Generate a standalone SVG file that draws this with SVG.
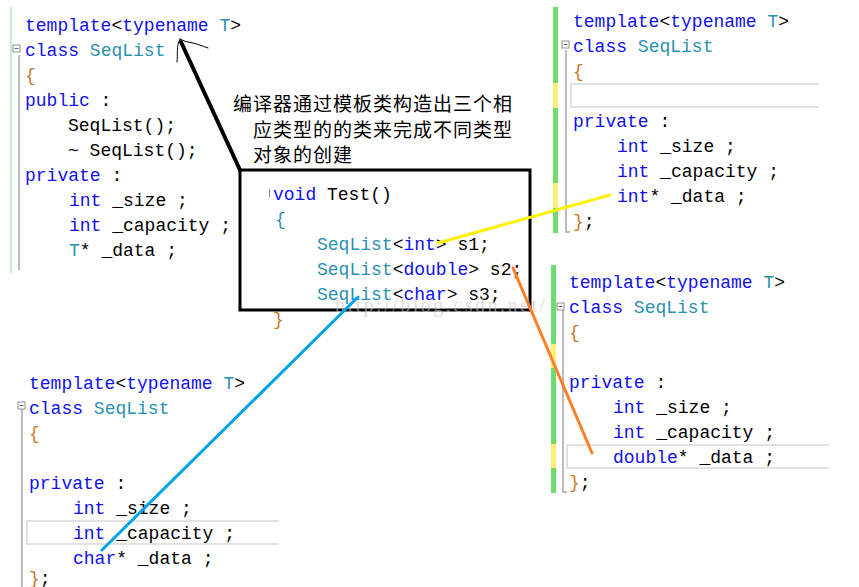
<svg xmlns="http://www.w3.org/2000/svg" width="859" height="587" viewBox="0 0 859 587">
<style>
.code{font-family:"Liberation Mono","DejaVu Sans Mono",monospace;font-size:18px;fill:#000}
.kw{fill:#1010f0}
.ty{fill:#2b91af}
.br{fill:#c8782a}
.gbar{fill:#70dc70}
.ybar{fill:#fff07a}
.gline{stroke:#a8a8a8;stroke-width:1.5;fill:none}
.hl{fill:none;stroke:#e2e2e2;stroke-width:2}
.fold{fill:#fff;stroke:#909090;stroke-width:1}
.note{font-family:"Noto Sans CJK SC","Noto Sans CJK JP",sans-serif;font-size:19px;fill:#000;letter-spacing:1px}
</style>
<rect width="859" height="587" fill="#fff"/>

<g id="class-template">
<line x1="11" y1="7" x2="11" y2="273" stroke="#b8e8b8" stroke-width="1.5"/>
<line class="gline" x1="19" y1="55" x2="19" y2="270"/>
<rect class="fold" x="13" y="45" width="7" height="7"/><line x1="14.5" y1="48.5" x2="18.5" y2="48.5" stroke="#707070"/>
<text class="code" x="25" y="31"><tspan class="kw">template</tspan>&lt;<tspan class="kw">typename</tspan> <tspan class="ty">T</tspan>&gt;</text>
<text class="code" x="25" y="56"><tspan class="kw">class</tspan> <tspan class="ty">SeqList</tspan></text>
<text class="code br" x="25" y="81">{</text>
<text class="code" x="25" y="106"><tspan class="kw">public</tspan> :</text>
<text class="code" x="68" y="131">SeqList();</text>
<text class="code" x="68" y="156">~ SeqList();</text>
<text class="code" x="25" y="181"><tspan class="kw">private</tspan> :</text>
<text class="code" x="69" y="206"><tspan class="kw">int</tspan> _size ;</text>
<text class="code" x="69" y="231"><tspan class="kw">int</tspan> _capacity ;</text>
<text class="code" x="69" y="256"><tspan class="ty">T</tspan>* _data ;</text>
</g>

<g id="class-int">
<rect class="gbar" x="553" y="7" width="5" height="226"/>
<rect class="ybar" x="553" y="83" width="5" height="25"/>
<rect class="ybar" x="553" y="183" width="5" height="25"/>
<polyline class="gline" points="566,50 566,232 570,232"/>
<rect class="fold" x="562" y="41" width="7" height="7"/><line x1="563.5" y1="44.5" x2="567.5" y2="44.5" stroke="#707070"/>
<polyline class="hl" points="819,84 571,84 571,107 819,107"/>
<text class="code" x="573" y="27"><tspan class="kw">template</tspan>&lt;<tspan class="kw">typename</tspan> <tspan class="ty">T</tspan>&gt;</text>
<text class="code" x="573" y="52"><tspan class="kw">class</tspan> <tspan class="ty">SeqList</tspan></text>
<text class="code br" x="573" y="77">{</text>
<text class="code" x="573" y="127"><tspan class="kw">private</tspan> :</text>
<text class="code" x="617" y="152"><tspan class="kw">int</tspan> _size ;</text>
<text class="code" x="617" y="177"><tspan class="kw">int</tspan> _capacity ;</text>
<text class="code" x="617" y="202"><tspan class="kw">int</tspan>* _data ;</text>
<text class="code" x="573" y="227"><tspan class="br">}</tspan>;</text>
</g>

<g id="class-double">
<rect class="gbar" x="551" y="265" width="5" height="228"/>
<rect class="ybar" x="551" y="344" width="5" height="24"/>
<rect class="ybar" x="551" y="444" width="5" height="24"/>
<polyline class="gline" points="563,310 563,492 567,492"/>
<rect class="fold" x="557" y="303" width="7" height="7"/><line x1="558.5" y1="306.5" x2="562.5" y2="306.5" stroke="#707070"/>
<polyline class="hl" points="829,445 567,445 567,468 829,468"/>
<text class="code" x="569" y="288"><tspan class="kw">template</tspan>&lt;<tspan class="kw">typename</tspan> <tspan class="ty">T</tspan>&gt;</text>
<text class="code" x="569" y="313"><tspan class="kw">class</tspan> <tspan class="ty">SeqList</tspan></text>
<text class="code br" x="569" y="338">{</text>
<text class="code" x="569" y="388"><tspan class="kw">private</tspan> :</text>
<text class="code" x="613" y="413"><tspan class="kw">int</tspan> _size ;</text>
<text class="code" x="613" y="438"><tspan class="kw">int</tspan> _capacity ;</text>
<text class="code" x="613" y="463"><tspan class="kw">double</tspan>* _data ;</text>
<text class="code" x="569" y="488"><tspan class="br">}</tspan>;</text>
</g>

<g id="class-char">
<line class="gline" x1="22" y1="405" x2="22" y2="587"/>
<rect class="fold" x="18" y="402" width="7" height="7"/><line x1="19.5" y1="405.5" x2="23.5" y2="405.5" stroke="#707070"/>
<polyline class="hl" points="279,521 27,521 27,544 279,544"/>
<text class="code" x="29" y="389"><tspan class="kw">template</tspan>&lt;<tspan class="kw">typename</tspan> <tspan class="ty">T</tspan>&gt;</text>
<text class="code" x="29" y="414"><tspan class="kw">class</tspan> <tspan class="ty">SeqList</tspan></text>
<text class="code br" x="29" y="439">{</text>
<text class="code" x="29" y="489"><tspan class="kw">private</tspan> :</text>
<text class="code" x="73" y="514"><tspan class="kw">int</tspan> _size ;</text>
<text class="code" x="73" y="539"><tspan class="kw">int</tspan> _capacity ;</text>
<text class="code" x="73" y="564"><tspan class="kw">char</tspan>* _data ;</text>
<text class="code" x="29" y="584"><tspan class="br">}</tspan>;</text>
</g>

<g id="note">
<text class="note" x="233" y="111">编译器通过模板类构造出三个相</text>
<text class="note" x="253" y="137">应类型的的类来完成不同类型</text>
<text class="note" x="253" y="162">对象的创建</text>
</g>

<g id="test-function">
<rect x="240" y="170" width="290" height="140" fill="none" stroke="#000" stroke-width="3"/>
<line x1="269.5" y1="189" x2="269.5" y2="197" stroke="#909090" stroke-width="1"/>
<text class="code" x="273" y="200"><tspan class="kw">void</tspan> Test()</text>
<text class="code ty" x="275" y="225">{</text>
<text class="code" x="317" y="250"><tspan class="ty">SeqList</tspan>&lt;<tspan class="kw">int</tspan>&gt; s1;</text>
<text class="code" x="317" y="275"><tspan class="ty">SeqList</tspan>&lt;<tspan class="kw">double</tspan>&gt; s2;</text>
<text class="code" x="317" y="300"><tspan class="ty">SeqList</tspan>&lt;<tspan class="kw">char</tspan>&gt; s3;</text>
<text class="code br" x="273" y="325">}</text>
<text x="335" y="312" font-family="Liberation Serif,serif" font-size="20" fill="#c8c8c8" fill-opacity="0.6" textLength="210">http://blog.csdn.net/</text>
</g>

<g id="connectors" fill="none" stroke-linecap="round">
<line x1="240" y1="170" x2="181" y2="42" stroke="#000" stroke-width="4"/>
<path d="M180,39 C176,46 178,54 177,62" stroke="#000" stroke-width="1"/>
<path d="M180,39 C183,40 185,42 188,42 C195,43 202,46 208,48" stroke="#000" stroke-width="1"/>
<line x1="438" y1="243" x2="610" y2="195" stroke="#fff200" stroke-width="3"/>
<line x1="513" y1="268" x2="592" y2="453" stroke="#ff7f27" stroke-width="3"/>
<line x1="358" y1="297" x2="102" y2="550" stroke="#00a2e8" stroke-width="3"/>
</g>
</svg>
